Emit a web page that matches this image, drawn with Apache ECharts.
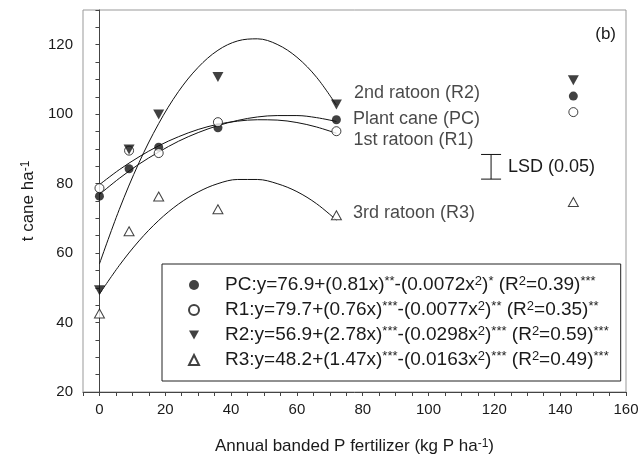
<!DOCTYPE html>
<html>
<head>
<meta charset="utf-8">
<script src="https://cdn.jsdelivr.net/npm/echarts@6/dist/echarts.min.js"></script>
<style>
html,body{margin:0;padding:0;background:#fff;}
#chart{width:641px;height:457px;}
</style>
</head>
<body>
<div id="chart"></div>
<script>
// ---- data ----
const xPoints = [0, 9, 18, 36, 72, 144];
const pcVals = [76.4, 84.3, 90.5, 96.1, 98.4, 105.2];
const r1Vals = [78.7, 89.5, 88.8, 97.7, 95.1, 100.6];
const r2Vals = [49.3, 89.8, 99.9, 110.7, 102.8, 109.8];
const r3Vals = [42.6, 66.3, 76.3, 72.6, 70.9, 74.7];

const curveX = [0, 6, 12, 18, 24, 30, 36, 42, 48, 54, 60, 66, 72];
const pcCurve = [76.9, 81.5, 85.6, 89.1, 92.2, 94.7, 96.7, 98.2, 99.2, 99.6, 99.6, 99.0, 97.9];
const r1Curve = [79.7, 84.0, 87.7, 90.9, 93.5, 95.6, 97.1, 98.0, 98.4, 98.3, 97.6, 96.3, 94.5];
const r2Curve = [56.9, 72.5, 86.0, 97.3, 106.5, 113.5, 118.4, 121.1, 121.7, 120.1, 116.4, 110.6, 102.6];
const r3Curve = [48.2, 56.4, 63.5, 69.4, 74.1, 77.6, 80.0, 81.2, 81.2, 80.0, 77.7, 74.2, 69.5];

const seriesNames = ['PC', 'R1', 'R2', 'R3'];
const curveLabels = ['Plant cane (PC)', '1st ratoon (R1)', '2nd ratoon (R2)', '3rd ratoon (R3)'];
const legendTexts = [
  'PC:y=76.9+(0.81x){sup|**}-(0.0072x{sup|2}){sup|*} (R{sup|2}=0.39){sup|***}',
  'R1:y=79.7+(0.76x){sup|***}-(0.0077x{sup|2}){sup|**} (R{sup|2}=0.35){sup|**}',
  'R2:y=56.9+(2.78x){sup|***}-(0.0298x{sup|2}){sup|***} (R{sup|2}=0.59){sup|***}',
  'R3:y=48.2+(1.47x){sup|***}-(0.0163x{sup|2}){sup|***} (R{sup|2}=0.49){sup|***}'
];
const labelAtX = 72;
const lsdX = 119, lsdLow = 81.3, lsdHigh = 88.4;
const lsdText = 'LSD (0.05)';
const xTickLabels = [0, 20, 40, 60, 80, 100, 120, 140, 160];
const yTickLabels = [20, 40, 60, 80, 100, 120];
const panelTag = '(b)';

// ---- chart ----
const FONT = '"Liberation Sans", Arial, sans-serif';
const TXT = '#1a1a1a';
const AX = '#444';
const chart = echarts.init(document.getElementById('chart'), null, {renderer: 'canvas'});

const values = [pcVals, r1Vals, r2Vals, r3Vals];
const curves = [pcCurve, r1Curve, r2Curve, r3Curve];
const openStyle = {color: '#fff', borderColor: '#111', borderWidth: 1};
const fillStyle = {color: '#111', borderColor: '#111', borderWidth: 0};
const markerDefs = [
  {symbol: 'circle', size: 9, rotate: 0, style: fillStyle, icon: 'circle'},
  {symbol: 'circle', size: 9, rotate: 0, style: openStyle, icon: 'circle'},
  {symbol: 'triangle', size: [11, 10], rotate: 180, style: fillStyle, icon: 'path://M0,0L10,0L5,9Z'},
  {symbol: 'triangle', size: [10, 9], rotate: 0, style: openStyle, icon: 'triangle'}
];
const labelOffsets = [[12, -1], [12, 9], [12, -11], [11, -2]];

const series = [];
curves.forEach((c, i) => {
  series.push({
    name: seriesNames[i] + ' fit',
    type: 'line',
    smooth: 0.35,
    showSymbol: false,
    silent: true,
    z: 2,
    lineStyle: {color: '#111', width: 1},
    data: curveX.map((x, k) => [x, c[k]])
  });
});
values.forEach((v, i) => {
  const m = markerDefs[i];
  series.push({
    name: seriesNames[i],
    type: 'scatter',
    symbol: m.symbol,
    symbolSize: m.size,
    symbolRotate: m.rotate,
    itemStyle: m.style,
    z: 5,
    data: xPoints.map((x, k) => {
      const d = {value: [x, v[k]]};
      if (x === labelAtX) {
        d.label = {
          show: true, position: 'right', distance: 0,
          offset: labelOffsets[i],
          formatter: curveLabels[i],
          fontSize: 18, color: TXT, fontFamily: FONT
        };
      }
      return d;
    })
  });
});
series.push({
  name: 'LSD',
  type: 'custom',
  silent: true,
  z: 4,
  data: [[lsdX, lsdLow, lsdHigh]],
  encode: {x: 0, y: [1, 2]},
  renderItem: function (params, api) {
    const lo = api.coord([api.value(0), api.value(1)]);
    const hi = api.coord([api.value(0), api.value(2)]);
    const hw = 10;
    const ls = {stroke: '#111', lineWidth: 1};
    return {
      type: 'group',
      children: [
        {type: 'line', shape: {x1: lo[0], y1: lo[1], x2: hi[0], y2: hi[1]}, style: ls},
        {type: 'line', shape: {x1: lo[0] - hw, y1: lo[1], x2: lo[0] + hw, y2: lo[1]}, style: ls},
        {type: 'line', shape: {x1: hi[0] - hw, y1: hi[1], x2: hi[0] + hw, y2: hi[1]}, style: ls},
        {type: 'text', x: lo[0] + 17, y: (lo[1] + hi[1]) / 2,
         style: {text: lsdText, fill: TXT, font: '18px ' + FONT, verticalAlign: 'middle', align: 'left'}}
      ]
    };
  }
});

const supStyle = {fontSize: 12, verticalAlign: 'top', lineHeight: 12, color: TXT, fontFamily: FONT};
const legSup = {fontSize: 13, verticalAlign: 'top', lineHeight: 12, color: TXT, fontFamily: FONT};

const option = {
  backgroundColor: '#fff',
  animation: false,
  title: {
    text: panelTag, right: 20, top: 21,
    textStyle: {fontSize: 17, fontWeight: 'normal', color: TXT, fontFamily: FONT}
  },
  grid: {left: 83, right: 15, top: 10, bottom: 65, show: true, borderColor: '#999', borderWidth: 1,
    backgroundColor: 'transparent', outerBoundsMode: 'none', containLabel: false},
  legend: {
    data: seriesNames.map((n, i) => ({name: n, icon: markerDefs[i].icon})),
    orient: 'vertical',
    left: 162, top: 264,
    padding: [11, 12, 11, 26],
    itemGap: 5,
    itemWidth: 10, itemHeight: 10,
    borderColor: '#222', borderWidth: 1,
    selectedMode: false,
    formatter: function (name) { return '{g| }' + legendTexts[seriesNames.indexOf(name)]; },
    textStyle: {fontSize: 19, color: TXT, fontFamily: FONT, lineHeight: 20,
      rich: {sup: legSup, g: {width: 21}}}
  },
  xAxis: {
    type: 'value', min: -5, max: 160, interval: 5,
    name: 'Annual banded P fertilizer (kg P ha{sup|-1})',
    nameLocation: 'middle', nameGap: 46,
    nameTextStyle: {fontSize: 17, color: TXT, fontFamily: FONT, rich: {sup: supStyle}},
    axisLine: {lineStyle: {color: AX, width: 1}},
    axisTick: {show: true, length: 4, lineStyle: {color: AX}},
    splitLine: {show: false},
    axisLabel: {
      fontSize: 15, color: TXT, fontFamily: FONT, margin: 10,
      formatter: function (v) { return xTickLabels.indexOf(v) >= 0 ? String(v) : ''; }
    }
  },
  yAxis: {
    type: 'value', min: 20, max: 130, interval: 5,
    name: 't cane ha{sup|-1}',
    nameLocation: 'middle', nameGap: 41, nameRotate: 90,
    nameTextStyle: {fontSize: 17, color: TXT, fontFamily: FONT, rich: {sup: supStyle}},
    axisLine: {lineStyle: {color: AX, width: 1}},
    axisTick: {show: true, length: 4, lineStyle: {color: AX}},
    splitLine: {show: false},
    axisLabel: {
      fontSize: 15, color: TXT, fontFamily: FONT, margin: 10,
      formatter: function (v) { return yTickLabels.indexOf(v) >= 0 ? String(v) : ''; }
    }
  },
  series: series
};
chart.setOption(option);
</script>
</body>
</html>
